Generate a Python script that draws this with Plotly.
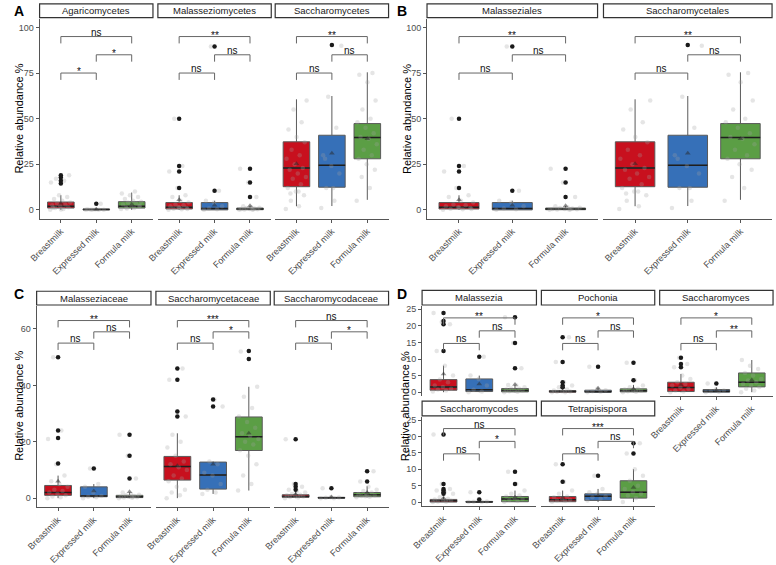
import plotly.graph_objects as go

W, H = 776, 565
FONT = "Liberation Sans, Arial, sans-serif"

# ---------------- data ----------------
GROUPS = ["Breastmilk", "Expressed milk", "Formula milk"]
FILLS = ["#C8101E", "#3670B8", "#5B9E45"]

Q1 = {
    "Agaricomycetes": [1.0, 0.0, 1.0],
    "Malasseziomycetes": [0.5, 0.0, 0.1],
    "Saccharomycetes": [12.7, 12.4, 28.0],
    "Malasseziales": [0.5, 0.0, 0.1],
    "Saccharomycetales": [12.7, 12.4, 28.0],
    "Malasseziaceae": [1.0, 0.5, 0.2],
    "Saccharomycetaceae": [6.4, 3.2, 16.9],
    "Saccharomycodaceae": [0.3, 0.0, 0.5],
    "Malassezia": [0.6, 0.2, 0.1],
    "Pochonia": [0.0, 0.0, 0.1],
    "Saccharomyces": [0.2, 0.0, 1.6],
    "Saccharomycodes": [0.0, 0.0, 0.1],
    "Tetrapisispora": [0.1, 0.5, 1.2],
}
MEDIAN = {
    "Agaricomycetes": [2.0, 0.2, 2.0],
    "Malasseziomycetes": [1.5, 0.8, 0.5],
    "Saccharomycetes": [23.0, 24.4, 39.6],
    "Malasseziales": [1.5, 0.8, 0.5],
    "Saccharomycetales": [23.0, 24.4, 39.6],
    "Malasseziaceae": [2.0, 0.8, 0.5],
    "Saccharomycetaceae": [11.2, 8.2, 21.8],
    "Saccharomycodaceae": [0.6, 0.1, 1.2],
    "Malassezia": [1.6, 0.7, 0.5],
    "Pochonia": [0.2, 0.1, 0.4],
    "Saccharomyces": [1.4, 0.3, 3.0],
    "Saccharomycodes": [0.4, 0.05, 0.9],
    "Tetrapisispora": [0.7, 1.8, 3.0],
}
Q3 = {
    "Agaricomycetes": [4.3, 0.5, 4.5],
    "Malasseziomycetes": [4.0, 4.0, 1.0],
    "Saccharomycetes": [37.3, 40.9, 47.3],
    "Malasseziales": [4.0, 4.0, 1.0],
    "Saccharomycetales": [37.3, 40.9, 47.3],
    "Malasseziaceae": [4.5, 4.0, 1.0],
    "Saccharomycetaceae": [14.8, 12.8, 28.8],
    "Saccharomycodaceae": [1.2, 0.3, 2.0],
    "Malassezia": [3.8, 4.0, 1.1],
    "Pochonia": [0.5, 0.6, 1.0],
    "Saccharomyces": [3.0, 0.8, 5.8],
    "Saccharomycodes": [0.8, 0.2, 1.7],
    "Tetrapisispora": [1.7, 2.5, 6.5],
}
LOWER = {
    "Agaricomycetes": [0.0, 0.0, 0.0],
    "Malasseziomycetes": [0.0, 0.0, 0.0],
    "Saccharomycetes": [2.0, 2.1, 5.5],
    "Malasseziales": [0.0, 0.0, 0.0],
    "Saccharomycetales": [2.0, 2.1, 5.5],
    "Malasseziaceae": [0.0, 0.0, 0.0],
    "Saccharomycetaceae": [0.0, 1.5, 2.7],
    "Saccharomycodaceae": [0.0, 0.0, 0.3],
    "Malassezia": [0.0, 0.0, 0.0],
    "Pochonia": [0.0, 0.0, 0.0],
    "Saccharomyces": [0.0, 0.0, 0.0],
    "Saccharomycodes": [0.0, 0.0, 0.0],
    "Tetrapisispora": [0.0, 0.0, 0.0],
}
UPPER = {
    "Agaricomycetes": [8.0, 0.8, 9.5],
    "Malasseziomycetes": [8.0, 5.0, 2.2],
    "Saccharomycetes": [60.6, 62.4, 75.4],
    "Malasseziales": [8.0, 5.0, 2.2],
    "Saccharomycetales": [60.6, 62.4, 75.4],
    "Malasseziaceae": [8.0, 5.0, 2.0],
    "Saccharomycetaceae": [23.0, 13.0, 39.5],
    "Saccharomycodaceae": [2.5, 0.5, 4.2],
    "Malassezia": [8.0, 5.0, 2.2],
    "Pochonia": [1.2, 1.2, 2.2],
    "Saccharomyces": [5.5, 1.5, 9.7],
    "Saccharomycodes": [1.6, 0.4, 3.5],
    "Tetrapisispora": [3.5, 4.0, 10.0],
}
MEAN = {
    "Agaricomycetes": [3.5, 0.4, 3.0],
    "Malasseziomycetes": [5.5, 2.5, 2.3],
    "Saccharomycetes": [25.3, 31.0, 39.0],
    "Malasseziales": [5.5, 2.5, 2.3],
    "Saccharomycetales": [25.3, 31.0, 39.0],
    "Malasseziaceae": [6.0, 2.5, 2.3],
    "Saccharomycetaceae": [11.5, 12.0, 23.0],
    "Saccharomycodaceae": [1.5, 0.4, 2.0],
    "Malassezia": [5.5, 2.5, 2.3],
    "Pochonia": [1.5, 1.2, 1.0],
    "Saccharomyces": [2.2, 0.5, 3.7],
    "Saccharomycodes": [1.2, 0.3, 1.5],
    "Tetrapisispora": [1.2, 2.0, 4.4],
}
OUTLIERS = {
    "Agaricomycetes": [[14.5, 16.0, 17.7, 19.0], [3.3], []],
    "Malasseziomycetes": [[12.0, 21.0, 24.0, 50.0], [10.5, 89.5], [7.0, 15.0, 22.5]],
    "Saccharomycetes": [[], [90.3], []],
    "Malasseziales": [[12.0, 21.0, 24.0, 50.0], [10.5, 89.5], [7.0, 15.0, 22.5]],
    "Saccharomycetales": [[], [90.3], []],
    "Malasseziaceae": [[12.3, 21.3, 24.0, 50.0], [10.5], [7.0, 15.0, 22.5]],
    "Saccharomycetaceae": [[29.0, 30.7, 42.0, 46.0], [32.5, 35.0], [49.4, 52.2]],
    "Saccharomycodaceae": [[3.0, 4.0, 5.0, 20.9], [3.5], [5.9, 9.5]],
    "Malassezia": [[12.4, 20.5, 21.5, 23.9], [10.7], [7.2, 14.8, 22.6]],
    "Pochonia": [[1.5, 2.0, 3.0, 9.1, 16.6], [7.7], [3.6, 8.9]],
    "Saccharomyces": [[7.5, 8.5, 10.4], [2.6], []],
    "Saccharomycodes": [[2.5, 3.0, 3.5, 4.0, 5.5, 20.6], [0.8, 3.0], [5.5, 9.2]],
    "Tetrapisispora": [[6.2, 11.5], [8.0], [14.8, 17.9]],
}
POINTS = {
    "Agaricomycetes": [
        [0, 0.5, 1, 1.5, 2, 2.5, 3, 3.5, 4, 5, 6, 7, 8, 15, 16, 17, 19, 0.2, 1.2],
        [0, 0, 0, 0.1, 0.2, 0.3, 3.3, 0],
        [0.5, 1, 1.5, 2, 2.5, 3, 3.5, 4, 4.5, 5, 6, 7, 8, 9, 10, 0.8, 2.2]],
    "Malasseziomycetes": [
        [0, 0.3, 0.6, 1, 1.5, 2, 2.5, 3, 4, 5, 7, 8, 12, 21, 24, 50, 0.5, 1.2],
        [0, 0.3, 0.8, 2, 4, 5, 10.5, 89.5],
        [0, 0.1, 0.2, 0.3, 0.5, 0.5, 0.8, 1, 1.2, 1.5, 2, 7, 15, 22.5, 0.4]],
    "Saccharomycetes": [
        [0.5, 2, 5, 8, 10, 12, 14, 17, 18, 20, 22, 23, 25, 28, 30, 33, 37, 40, 44, 48, 55, 60, 10, 9],
        [1, 5, 12, 20, 24, 30, 45, 62, 90, 12, 28],
        [5, 12, 18, 22, 25, 28, 30, 33, 36, 39, 40, 42, 45, 48, 50, 55, 60, 70, 74, 75]],
    "Malasseziales": [
        [0, 0.3, 0.6, 1, 1.5, 2, 2.5, 3, 4, 5, 7, 8, 12, 21, 24, 50, 0.5, 1.2],
        [0, 0.3, 0.8, 2, 4, 5, 10.5, 89.5],
        [0, 0.1, 0.2, 0.3, 0.5, 0.5, 0.8, 1, 1.2, 1.5, 2, 7, 15, 22.5, 0.4]],
    "Saccharomycetales": [
        [0.5, 2, 5, 8, 10, 12, 14, 17, 18, 20, 22, 23, 25, 28, 30, 33, 37, 40, 44, 48, 55, 60, 10, 9],
        [1, 5, 12, 20, 24, 30, 45, 62, 90, 12, 28],
        [5, 12, 18, 22, 25, 28, 30, 33, 36, 39, 40, 42, 45, 48, 50, 55, 60, 70, 74, 75]],
    "Malasseziaceae": [
        [0, 0.3, 0.6, 1, 1.5, 2, 2.5, 3, 4, 5, 6, 8, 12, 21, 24, 50],
        [0, 0.3, 0.5, 0.8, 2, 4, 5, 10.5],
        [0, 0.1, 0.2, 0.3, 0.5, 0.5, 0.8, 1, 1.2, 1.5, 2, 7, 15, 22.5, 0.4]],
    "Saccharomycetaceae": [
        [0, 1, 2, 3, 4, 6, 7, 8, 10, 11, 12, 13, 15, 18, 20, 22.5, 29, 30.7, 42, 46],
        [1.5, 2, 3, 5, 8, 9, 12, 13, 32.5, 35],
        [2.7, 5, 8, 12, 15, 17, 19, 20, 21, 22, 23, 25, 27, 29, 32, 36, 39.5, 49.4, 52]],
    "Saccharomycodaceae": [
        [0, 0.2, 0.4, 0.6, 0.8, 1, 1.2, 1.5, 2, 2.5, 3, 4, 5, 20.9],
        [0, 0, 0.1, 0.2, 0.3, 3.5],
        [0.3, 0.5, 0.8, 1, 1.2, 1.5, 2, 2.5, 3, 4, 5.9, 9.5, 0.7]],
    "Malassezia": [
        [0.2, 0.5, 0.8, 1, 1.6, 2, 3, 3.8, 5, 8, 12.4, 20.5, 21.2, 23.9],
        [0, 0.2, 0.7, 2, 4, 5, 10.7],
        [0, 0.1, 0.3, 0.5, 0.5, 0.8, 1, 1.1, 1.5, 2, 2.2, 7.2, 14.8, 22.6]],
    "Pochonia": [
        [0, 0, 0.1, 0.2, 0.3, 0.5, 0.8, 1.5, 2, 3, 9.1, 16.6],
        [0, 0.1, 0.3, 0.6, 1, 7.7],
        [0, 0.1, 0.3, 0.4, 0.6, 0.8, 1, 1.5, 2, 3.6, 8.9]],
    "Saccharomyces": [
        [0, 0.2, 0.5, 1, 1.4, 2, 2.5, 3, 4, 5, 7.5, 8.5, 10.4],
        [0, 0.1, 0.3, 0.5, 0.8, 2.6],
        [0, 0.5, 1, 1.6, 2, 2.5, 3, 3.5, 4, 5, 5.8, 7, 8, 9.7]],
    "Saccharomycodes": [
        [0, 0.1, 0.2, 0.4, 0.6, 0.8, 1, 1.5, 2.5, 3, 3.5, 4, 5.5, 20.6],
        [0, 0, 0.1, 0.2, 0.8, 3],
        [0.1, 0.3, 0.6, 0.9, 1.2, 1.7, 2, 2.5, 3.5, 5.5, 9.2]],
    "Tetrapisispora": [
        [0.1, 0.3, 0.5, 0.7, 1, 1.5, 1.7, 2.5, 3.5, 6.2, 11.5],
        [0.5, 1, 1.5, 1.8, 2.5, 3, 4, 8],
        [0, 1.2, 2, 2.5, 3, 4, 5, 6.5, 8, 10, 14.8, 17.9]],
}
# significance labels for pairs (1-2, 2-3, 1-3)
SIGNIF = {
    "Agaricomycetes": ["*", "*", "ns"],
    "Malasseziomycetes": ["ns", "ns", "**"],
    "Saccharomycetes": ["ns", "ns", "**"],
    "Malasseziales": ["ns", "ns", "**"],
    "Saccharomycetales": ["ns", "ns", "**"],
    "Malasseziaceae": ["ns", "ns", "**"],
    "Saccharomycetaceae": ["ns", "*", "***"],
    "Saccharomycodaceae": ["ns", "*", "ns"],
    "Malassezia": ["ns", "ns", "**"],
    "Pochonia": ["ns", "ns", "*"],
    "Saccharomyces": ["ns", "**", "*"],
    "Saccharomycodes": ["ns", "*", "ns"],
    "Tetrapisispora": ["ns", "ns", "***"],
}
BRACKET_Y = {"AB": [75, 85, 95], "C": [55, 59, 63], "D": [14.7, 18.5, 22.4]}
Y_TICKS = {"AB": [0, 25, 50, 75, 100], "C": [0, 20, 40, 60], "D": [0, 5, 10, 15, 20, 25]}

# ---------------- layout (pixels) ----------------
Y_RANGE = {"AB": [-4.84, 104.8], "C": [-3.13, 68.17], "D": [-1.2, 26.0]}
# name, scale, x0, x1, plot_top, plot_bottom, strip_top, strip_bottom, show_x, show_y
FACETS = [
    ("Agaricomycetes", "AB", 29, 144, 17, 221, 2, 16, True, True),
    ("Malasseziomycetes", "AB", 149, 264, 17, 221, 2, 16, True, False),
    ("Saccharomycetes", "AB", 268, 383, 17, 221, 2, 16, True, False),
    ("Malasseziales", "AB", 422, 595, 17, 221, 2, 16, True, True),
    ("Saccharomycetales", "AB", 601, 772, 17, 221, 2, 16, True, False),
    ("Malasseziaceae", "C", 26, 142, 310, 515, 295, 309, True, True),
    ("Saccharomycetaceae", "C", 147, 263, 310, 515, 295, 309, True, False),
    ("Saccharomycodaceae", "C", 267, 383, 310, 515, 295, 309, True, False),
    ("Malassezia", "D", 417, 533, 310, 402, 294, 309, False, True),
    ("Pochonia", "D", 538, 653, 310, 402, 294, 309, False, False),
    ("Saccharomyces", "D", 658, 773, 310, 402, 294, 309, True, False),
    ("Saccharomycodes", "D", 417, 533, 423, 514, 407, 422, True, True),
    ("Tetrapisispora", "D", 538, 653, 423, 514, 407, 422, True, False),
]
PANEL_LABELS = [("A", 8, 9), ("B", 397, 9), ("C", 8, 298), ("D", 397, 298)]
Y_TITLES = [(8, 119), (401, 119), (8, 412), (400, 412)]

JIT = [((k * 0.618034) % 1 - 0.5) * 0.6 for k in range(40)]
AXCOL = "#555555"
TICKCOL = "#4d4d4d"

fig = go.Figure()
shapes, annotations = [], []
axes = {}

for i, (name, sc, x0, x1, top, bot, s0, s1, showx, showy) in enumerate(FACETS, start=1):
    sfx = "" if i == 1 else str(i)
    xa, ya = "x" + sfx, "y" + sfx
    yr = Y_RANGE[sc]
    axes["xaxis" + sfx] = dict(
        domain=[x0 / W, x1 / W], anchor=ya, range=[0.4, 3.6],
        tickvals=[1, 2, 3], ticktext=GROUPS, tickangle=-45,
        showticklabels=showx, showline=showx, linecolor=AXCOL, linewidth=1,
        ticks="outside" if showx else "", ticklen=3, tickcolor=AXCOL,
        tickfont=dict(size=9, color=TICKCOL, family=FONT),
        showgrid=False, zeroline=False, fixedrange=True)
    axes["yaxis" + sfx] = dict(
        domain=[1 - bot / H, 1 - top / H], anchor=xa, range=yr,
        tickvals=Y_TICKS[sc], showticklabels=showy, showline=showy,
        linecolor=AXCOL, linewidth=1, ticks="outside" if showy else "",
        ticklen=3, tickcolor=AXCOL,
        tickfont=dict(size=9, color=TICKCOL, family=FONT),
        showgrid=False, zeroline=False, fixedrange=True)

    for g in range(3):
        pos = g + 1
        fig.add_trace(go.Box(
            x=[pos], q1=[Q1[name][g]], median=[MEDIAN[name][g]], q3=[Q3[name][g]],
            lowerfence=[LOWER[name][g]], upperfence=[UPPER[name][g]],
            width=0.75, whiskerwidth=0, fillcolor=FILLS[g],
            line=dict(color="#5a5a5a", width=1), boxpoints=False,
            xaxis=xa, yaxis=ya, showlegend=False, hoverinfo="skip"))
        # darker median
        fig.add_trace(go.Scatter(
            x=[pos - 0.375, pos + 0.375], y=[MEDIAN[name][g]] * 2, mode="lines",
            line=dict(color="#1e1e1e", width=1.5), xaxis=xa, yaxis=ya,
            showlegend=False, hoverinfo="skip"))
        pts = POINTS[name][g]
        fig.add_trace(go.Scatter(
            x=[pos + JIT[k % len(JIT)] for k in range(len(pts))], y=pts,
            mode="markers", marker=dict(color="rgba(160,160,160,0.28)", size=4.5),
            xaxis=xa, yaxis=ya, showlegend=False, hoverinfo="skip"))
        outs = OUTLIERS[name][g]
        if outs:
            fig.add_trace(go.Scatter(
                x=[pos] * len(outs), y=outs, mode="markers",
                marker=dict(color="#1a1a1a", size=4.5),
                xaxis=xa, yaxis=ya, showlegend=False, hoverinfo="skip"))
        fig.add_trace(go.Scatter(
            x=[pos], y=[MEAN[name][g]], mode="markers",
            marker=dict(symbol="triangle-up", color="rgba(40,40,40,0.5)", size=5),
            xaxis=xa, yaxis=ya, showlegend=False, hoverinfo="skip"))

    # significance brackets
    ppu = (bot - top) / (yr[1] - yr[0])
    d = 7 / ppu
    for (a, b), lvl, lab in zip([(1, 2), (2, 3), (1, 3)], BRACKET_Y[sc], SIGNIF[name]):
        shapes.append(dict(
            type="path", xref=xa, yref=ya,
            path=f"M {a},{lvl - d} L {a},{lvl} L {b},{lvl} L {b},{lvl - d}",
            line=dict(color="#666666", width=1)))
        annotations.append(dict(
            x=(a + b) / 2, y=lvl, xref=xa, yref=ya, text=lab, showarrow=False,
            xanchor="center", yanchor="bottom", yshift=-3 if lab == "ns" else -6,
            font=dict(size=10, color="#111111", family=FONT)))

    # strip
    shapes.append(dict(type="rect", xref="paper", yref="paper",
                       x0=x0 / W, x1=x1 / W, y0=1 - s1 / H, y1=1 - s0 / H,
                       line=dict(color="#333333", width=1.2), fillcolor="white"))
    annotations.append(dict(x=(x0 + x1) / 2 / W, y=1 - (s0 + s1) / 2 / H,
                            xref="paper", yref="paper", text=name, showarrow=False,
                            xanchor="center", yanchor="middle",
                            font=dict(size=9.5, color="#1a1a1a", family=FONT)))

for lab, px, py in PANEL_LABELS:
    annotations.append(dict(x=px / W, y=1 - py / H, xref="paper", yref="paper",
                            text=f"<b>{lab}</b>", showarrow=False,
                            xanchor="center", yanchor="middle",
                            font=dict(size=14, color="black", family=FONT)))
for px, py in Y_TITLES:
    annotations.append(dict(x=px / W, y=1 - py / H, xref="paper", yref="paper",
                            text="Relative abundance %", textangle=-90, showarrow=False,
                            xanchor="center", yanchor="middle",
                            font=dict(size=11, color="black", family=FONT)))

fig.update_layout(width=W, height=H, margin=dict(l=0, r=0, t=0, b=0),
                  paper_bgcolor="white", plot_bgcolor="white",
                  shapes=shapes, annotations=annotations,
                  font=dict(family=FONT), **axes)
fig.write_html("out.html")
